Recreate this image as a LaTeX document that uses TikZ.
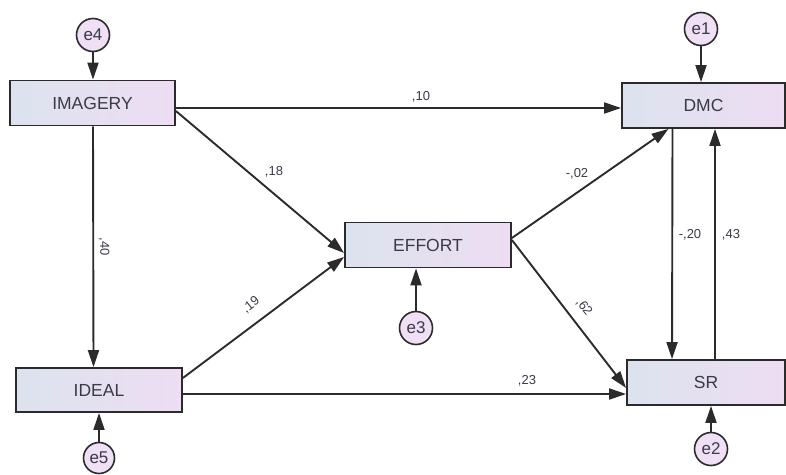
\documentclass[tikz,border=0pt]{standalone}
\usepackage{fontspec}
\setmainfont{Liberation Sans}
\usetikzlibrary{arrows.meta,calc}
\definecolor{boxl}{HTML}{DCE3EE}
\definecolor{boxr}{HTML}{EEDDF3}
\definecolor{errf}{HTML}{EFE0F5}
\definecolor{ink}{HTML}{2B2B2B}
\definecolor{txt}{HTML}{3A3A48}
\tikzset{
  varbox/.style={draw=ink, line width=1.8pt, left color=boxl, right color=boxr,
    minimum height=45pt, inner sep=0pt, text=txt, font=\fontsize{17.5}{17.5}\selectfont},
  errnode/.style={draw=ink, line width=1.6pt, circle, fill=errf, minimum size=33pt,
    inner sep=0pt, text=txt, font=\fontsize{17}{17}\selectfont},
  pathline/.style={draw=ink, line width=1.9pt, -{Triangle[length=17pt,width=11pt]}},
  coef/.style={text=txt, font=\fontsize{13}{13}\selectfont, inner sep=1pt}
}
\begin{document}
\begin{tikzpicture}[x=1pt,y=-1pt]
\useasboundingbox (0,0) rectangle (786,474);
% boxes
\node[varbox, minimum width=165pt] (img) at (92.5,103) {IMAGERY};
\node[varbox, minimum width=163pt] (dmc) at (703.5,105.5) {DMC};
\node[varbox, minimum width=166pt] (eff) at (428,245) {EFFORT};
\node[varbox, minimum width=166pt, minimum height=44pt] (ide) at (99,390) {IDEAL};
\node[varbox, minimum width=158pt] (sr) at (706,382.5) {SR};
% errors
\node[errnode] (e4) at (93,35) {e4};
\node[errnode] (e1) at (701,29) {e1};
\node[errnode] (e3) at (416,328) {e3};
\node[errnode, minimum size=31pt] (e5) at (99,458) {e5};
\node[errnode] (e2) at (711,449) {e2};
% error arrows
\draw[pathline] (e4) -- (e4 |- img.north);
\draw[pathline] (e1) -- (e1 |- dmc.north);
\draw[pathline] (e3) -- (e3 |- eff.south);
\draw[pathline] (e5) -- (e5 |- ide.south);
\draw[pathline] (e2) -- (e2 |- sr.south);
% structural paths
\draw[pathline] ($(img.east)+(0,5)$) -- ($(dmc.west)+(0,2.5)$);
\draw[pathline] ($(img.east)+(0,8)$) -- ($(eff.west)+(0,8)$);
\draw[pathline] ($(img.south)+(0.5,0)$) -- ($(ide.north)+(-5.5,0)$);
\draw[pathline] ($(ide.east)+(0,-12)$) -- ($(eff.west)+(0,12)$);
\draw[pathline] ($(ide.east)+(0,4)$) -- ($(sr.west)+(0,11.5)$);
\draw[pathline] ($(eff.east)+(0,-7)$) -- ($(dmc.south)+(-35,0)$);
\draw[pathline] ($(eff.east)+(0,-5)$) -- ($(sr.west)+(0,5.5)$);
\draw[pathline] ($(dmc.south)+(-31,0)$) -- ($(sr.north)+(-34,0)$);
\draw[pathline] ($(sr.north)+(9,0)$) -- ($(dmc.south)+(11.5,0)$);
% coefficients
\node[coef] (c10) at (421,97) {,10};
\node[coef] (c18) at (274,172) {,18};
\node[coef] (c02) at (577,174) {-,02};
\node[coef, rotate=-90] (c40) at (104,247) {,40};
\node[coef, rotate=38] (c19) at (251,305) {,19};
\node[coef] (c23) at (527,381) {,23};
\node[coef, rotate=-52] (c62) at (584,307) {,62};
\node[coef] (c20) at (690,235) {-,20};
\node[coef] (c43) at (731,235) {,43};
\end{tikzpicture}
\end{document}
